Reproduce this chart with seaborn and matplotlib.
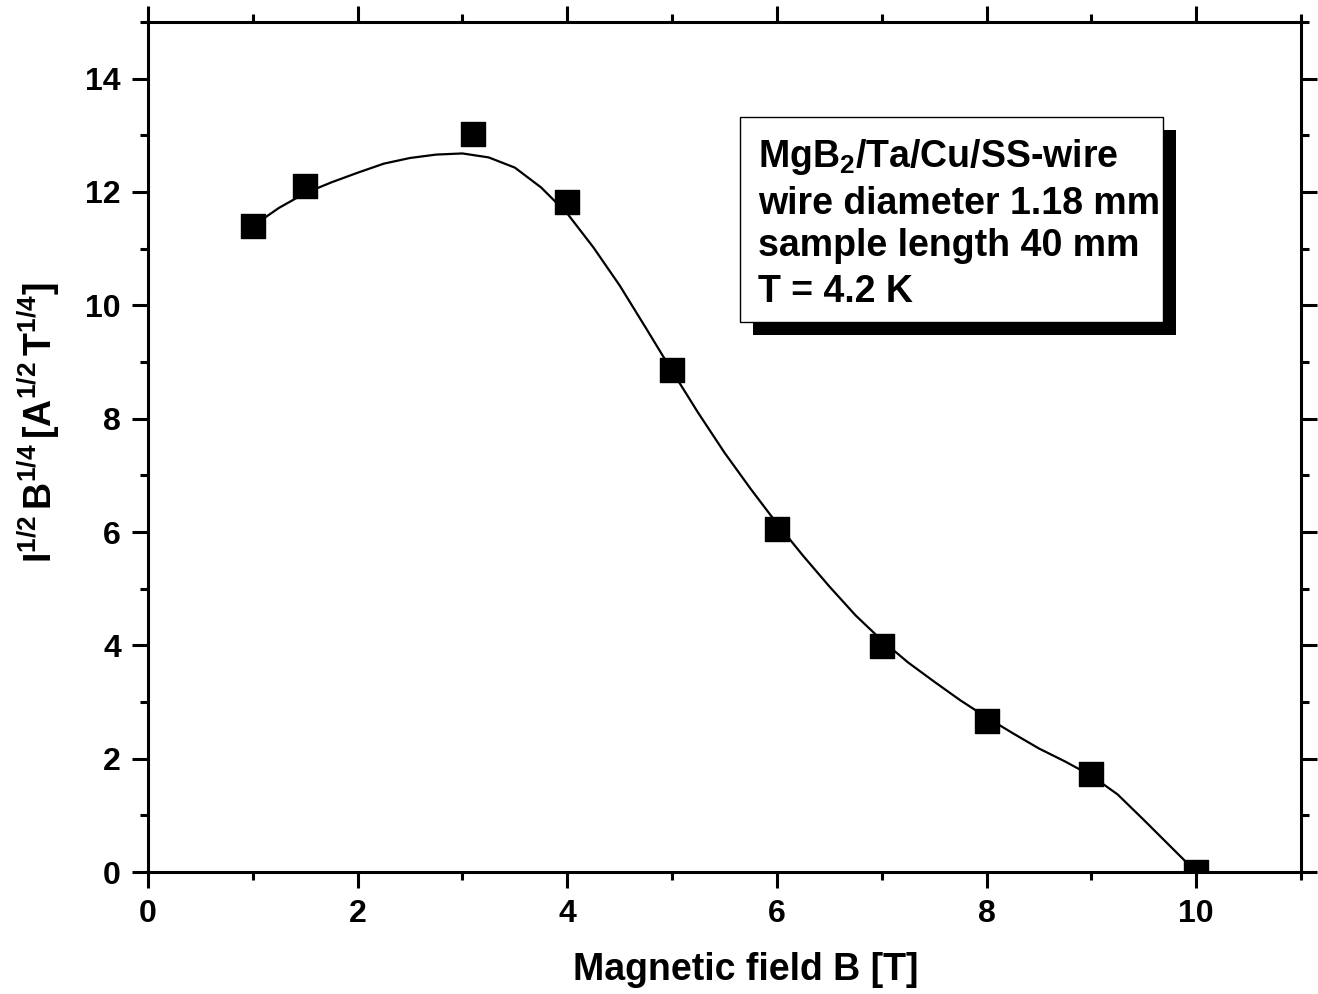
import numpy as np
import pandas as pd
import matplotlib
matplotlib.use("Agg")
import matplotlib.pyplot as plt
from matplotlib.patches import Rectangle
import seaborn as sns

# Measured data points
field_B = [1.0, 1.5, 3.1, 4.0, 5.0, 6.0, 7.0, 8.0, 9.0, 10.0]
kramer = [11.40, 12.10, 13.02, 11.82, 8.85, 6.05, 3.98, 2.66, 1.73, 0.0]

# Fitted curve
curve_B = [1.00, 1.25, 1.50, 1.75, 2.00, 2.25, 2.50, 2.75, 3.00, 3.25, 3.50,
           3.75, 4.00, 4.25, 4.50, 4.75, 5.00, 5.25, 5.50, 5.75, 6.00, 6.25,
           6.50, 6.75, 7.00, 7.25, 7.50, 7.75, 8.00, 8.25, 8.50, 8.75, 9.00,
           9.25, 9.50, 9.75, 10.00]
curve_K = [11.40, 11.72, 11.98, 12.17, 12.34, 12.50, 12.60, 12.66, 12.68, 12.61, 12.43,
           12.08, 11.62, 11.02, 10.35, 9.60, 8.84, 8.10, 7.40, 6.76, 6.15, 5.58,
           5.04, 4.53, 4.09, 3.70, 3.36, 3.03, 2.73, 2.45, 2.18, 1.95, 1.70,
           1.37, 0.92, 0.46, 0.0]

x_ticks = [0, 2, 4, 6, 8, 10]
y_ticks = [0, 2, 4, 6, 8, 10, 12, 14]

box_lines = [r"MgB$_\mathbf{2}$/Ta/Cu/SS-wire", "wire diameter 1.18 mm",
             "sample length 40 mm", "T = 4.2 K"]

sns.set_style("ticks")
plt.rcParams["font.family"] = ["Liberation Sans", "DejaVu Sans"]
plt.rcParams["font.weight"] = "bold"
plt.rcParams["mathtext.fontset"] = "custom"
plt.rcParams["mathtext.rm"] = "Liberation Sans:bold"
plt.rcParams["mathtext.bf"] = "Liberation Sans:bold"
plt.rcParams["mathtext.it"] = "Liberation Sans:bold"
plt.rcParams["mathtext.default"] = "bf"
for key in ["text.color", "axes.labelcolor", "xtick.color", "ytick.color",
            "axes.edgecolor"]:
    plt.rcParams[key] = "black"

fig = plt.figure(figsize=(13.18, 9.94), dpi=100)
ax = fig.add_axes([0.1123, 0.1227, 0.9871 - 0.1123, 0.9779 - 0.1227])

df_pts = pd.DataFrame({"B": field_B, "K": kramer})
df_curve = pd.DataFrame({"B": curve_B, "K": curve_K})

sns.lineplot(data=df_curve, x="B", y="K", color="black", linewidth=1.6,
             sort=False, ax=ax, zorder=2)
sns.scatterplot(data=df_pts, x="B", y="K", marker="s", s=300, color="black",
                edgecolor="black", linewidth=1, ax=ax, zorder=3)

ax.set_xlim(0, 11)
ax.set_ylim(0, 15)
ax.set_xticks(x_ticks)
ax.set_yticks(y_ticks)
ax.set_xticks(np.arange(1, 12, 2), minor=True)
ax.set_yticks(np.arange(1, 16, 2), minor=True)
ax.set_xticklabels([str(v) for v in x_ticks])
ax.set_yticklabels([str(v) for v in y_ticks])

for sp in ax.spines.values():
    sp.set_visible(True)
    sp.set_linewidth(2.2)
    sp.set_color("black")
    sp.set_zorder(10)

ax.tick_params(which="both", direction="out", top=True, right=True,
               width=2.2, color="black", labelcolor="black")
ax.tick_params(which="major", length=11.5, labelsize=23, pad=8)
ax.tick_params(which="minor", length=5.8)
for lab in ax.get_xticklabels() + ax.get_yticklabels():
    lab.set_fontweight("bold")

ax.set_xlabel("Magnetic field B [T]", fontsize=27, fontweight="bold")
ax.xaxis.set_label_coords(0.5187, -0.094)
ax.set_ylabel(r"$\mathbf{I^{1/2}\,B^{1/4}\,[A^{1/2}\,T^{1/4}]}$", fontsize=27,
              fontweight="bold")
ax.yaxis.set_label_coords(-0.075, 0.529)

# Annotation box with drop shadow
bx0, bx1, by0, by1 = 5.65, 9.685, 9.705, 13.32
sdx, sdy = 0.125, -0.22
ax.add_patch(Rectangle((bx0 + sdx, by0 + sdy), bx1 - bx0, by1 - by0,
                       facecolor="black", edgecolor="black", lw=0, zorder=4))
ax.add_patch(Rectangle((bx0, by0), bx1 - bx0, by1 - by0,
                       facecolor="white", edgecolor="black", lw=1.0, zorder=5))
for yy, txt in zip([12.44, 11.61, 10.87, 10.05], box_lines):
    ax.text(5.82, yy, txt, fontsize=27, fontweight="bold", va="baseline",
            ha="left", zorder=6)

fig.savefig("out.png", dpi=100)
